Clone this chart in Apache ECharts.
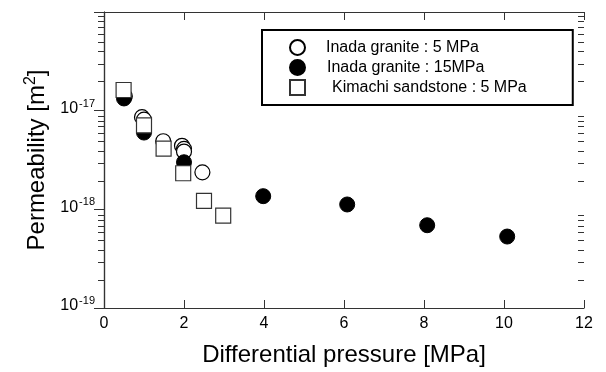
<!DOCTYPE html>
<html>
<head>
<meta charset="utf-8">
<script src="https://cdn.jsdelivr.net/npm/echarts@6/dist/echarts.min.js"></script>
<style>
  html, body { margin: 0; padding: 0; background: #fff; }
  #chart { width: 606px; height: 372px; }
</style>
</head>
<body>
<div id="chart"></div>
<script>
// Inada granite, confining 5 MPa (open circles)
var granite5X = [0.52, 0.95, 1.0, 1.48, 1.95, 2.0, 2.0, 2.46];
var granite5Y = [1.4e-17, 8.6e-18, 8.1e-18, 4.9e-18, 4.4e-18, 4.1e-18, 3.85e-18, 2.37e-18];
// Inada granite, confining 15 MPa (filled circles)
var granite15X = [0.5, 1.0, 2.0, 3.98, 6.08, 8.08, 10.08];
var granite15Y = [1.33e-17, 6.0e-18, 3.0e-18, 1.36e-18, 1.12e-18, 6.9e-19, 5.3e-19];
// Kimachi sandstone, confining 5 MPa (open squares)
var sandstoneX = [0.49, 1.0, 1.49, 1.98, 2.5, 2.98];
var sandstoneY = [1.62e-17, 7.1e-18, 4.12e-18, 2.32e-18, 1.22e-18, 8.65e-19];

var seriesNames = ['Inada granite : 5 MPa', 'Inada granite : 15MPa', 'Kimachi sandstone : 5 MPa'];
var xTicks = [0, 2, 4, 6, 8, 10, 12];

// minor ticks 2..9 x 10^n on the log axis
var minorTicks = [];
[-19, -18, -17].forEach(function (e) {
    for (var k = 2; k <= 9; k++) minorTicks.push(k * Math.pow(10, e));
});

function pairs(xs, ys) {
    return xs.map(function (x, i) { return [x, ys[i]]; });
}

var font = 'Liberation Sans, Arial, sans-serif';
var lineColor = '#333';
var gridBox = { left: 104, right: 22, top: 12, bottom: 62 };

var chart = echarts.init(document.getElementById('chart'));

function yAxisBase(pos, gridIndex) {
    return {
        type: 'log',
        logBase: 10,
        gridIndex: gridIndex,
        min: 1e-19,
        max: 1e-16,
        position: pos,
        splitLine: { show: false },
        axisLine: { show: true, lineStyle: { color: lineColor, width: 1.2 } },
        axisTick: { show: true, inside: true, length: 10, lineStyle: { color: lineColor } },
        axisLabel: { show: false }
    };
}

var yLeft = yAxisBase('left', 0);
yLeft.axisLabel = {
    show: true,
    margin: 9,
    fontFamily: font,
    color: '#000',
    formatter: function (v) {
        var e = Math.round(Math.log10(v));
        if (e >= -16) return '';
        return '{b|10}{e|' + e + '}';
    },
    rich: {
        b: { fontSize: 16, fontFamily: font, color: '#000', padding: [0, 0, 4, 0] },
        e: { fontSize: 11, fontFamily: font, color: '#000', padding: [0, 0, 14, 1] }
    }
};
yLeft.name = '{a|Permeability [m}{s|2}{a|]}';
yLeft.nameLocation = 'middle';
yLeft.nameGap = 50;
yLeft.nameRotate = 90;
yLeft.nameTextStyle = {
    rich: {
        a: { fontSize: 24, fontFamily: font, color: '#000' },
        s: { fontSize: 16, fontFamily: font, color: '#000', padding: [0, 0, 14, 0] }
    }
};

var yRight = yAxisBase('right', 0);

// minor tick axes live on a second grid with the same box
function minorAxis(pos) {
    var a = yAxisBase(pos, 1);
    a.axisLine = { show: false };
    a.axisTick = { show: true, inside: true, length: 6, customValues: minorTicks, lineStyle: { color: lineColor } };
    return a;
}

var minorLeft = minorAxis('left');
// ticks on the left came out pointing outwards with inside:true, so flip them
yLeft.axisTick.inside = false;
minorLeft.axisTick.inside = false;

var option = {
    animation: false,
    backgroundColor: '#fff',
    grid: [gridBox, gridBox],
    legend: {
        orient: 'vertical',
        left: 262,
        top: 30,
        itemWidth: 15,
        itemHeight: 15,
        itemGap: 3,
        borderColor: '#000',
        borderWidth: 2,
        borderRadius: 0,
        padding: [9, 46, 9, 27],
        textStyle: { fontFamily: font, fontSize: 16, color: '#000' },
        data: [
            { name: seriesNames[0], textStyle: { padding: [0, 0, 0, 16] } },
            { name: seriesNames[1], textStyle: { padding: [0, 0, 0, 17] } },
            { name: seriesNames[2], textStyle: { padding: [0, 0, 0, 22] } }
        ]
    },
    xAxis: [{
        type: 'value',
        gridIndex: 0,
        min: 0,
        max: 12,
        interval: 2,
        position: 'bottom',
        name: 'Differential pressure [MPa]',
        nameLocation: 'middle',
        nameGap: 35,
        nameTextStyle: { fontFamily: font, fontSize: 24, color: '#000' },
        splitLine: { show: false },
        axisLine: { show: true, lineStyle: { color: lineColor, width: 1.2 } },
        axisTick: { show: true, inside: true, length: 8, lineStyle: { color: lineColor } },
        axisLabel: {
            margin: 8, fontFamily: font, fontSize: 16, color: '#000',
            customValues: xTicks
        }
    }, {
        type: 'value',
        gridIndex: 0,
        min: 0,
        max: 12,
        interval: 2,
        position: 'top',
        splitLine: { show: false },
        axisLine: { show: true, lineStyle: { color: lineColor, width: 1.2 } },
        axisTick: { show: true, inside: true, length: 8, lineStyle: { color: lineColor } },
        axisLabel: { show: false }
    }, {
        type: 'value',
        gridIndex: 1,
        min: 0,
        max: 12,
        show: false
    }],
    yAxis: [yLeft, yRight, minorLeft, minorAxis('right')],
    series: [{
        name: seriesNames[0],
        type: 'scatter',
        symbol: 'circle',
        symbolSize: 15,
        itemStyle: { color: '#fff', borderColor: '#000', borderWidth: 1.2, opacity: 1 },
        data: pairs(granite5X, granite5Y),
        z: 2
    }, {
        name: seriesNames[1],
        type: 'scatter',
        symbol: 'circle',
        symbolSize: 15,
        itemStyle: { color: '#000', borderColor: '#000', borderWidth: 1, opacity: 1 },
        data: pairs(granite15X, granite15Y),
        z: 3
    }, {
        name: seriesNames[2],
        type: 'scatter',
        symbol: 'rect',
        symbolSize: 15,
        itemStyle: { color: '#fff', borderColor: '#333', borderWidth: 1.2, opacity: 1 },
        data: pairs(sandstoneX, sandstoneY),
        z: 4
    }]
};

chart.setOption(option);
</script>
</body>
</html>
